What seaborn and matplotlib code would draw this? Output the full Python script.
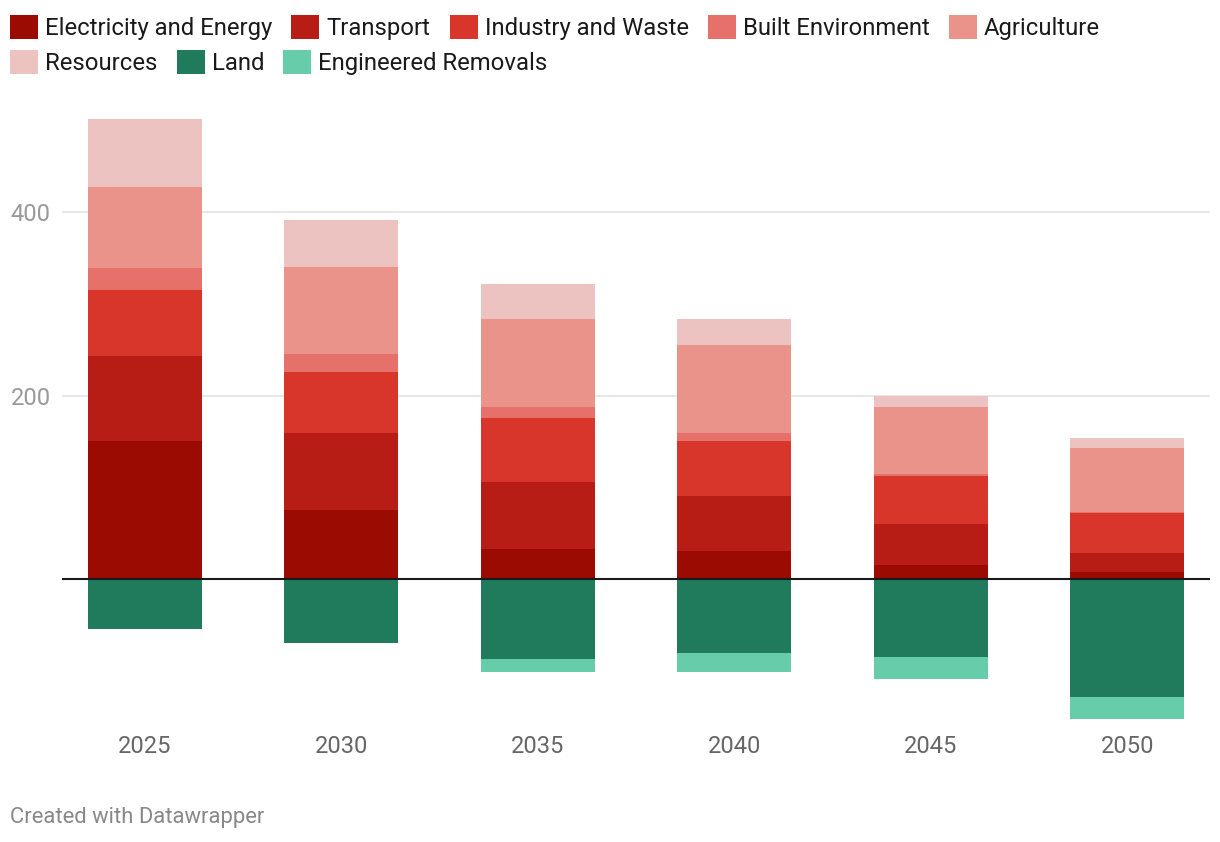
import matplotlib
matplotlib.use("Agg")
import matplotlib.pyplot as plt
from matplotlib.patches import Patch
import seaborn as sns
import pandas as pd
import numpy as np

years = ["2025", "2030", "2035", "2040", "2045", "2050"]
electricity = [150, 75, 33, 31, 15, 8]
transport = [93, 84, 73, 60, 45, 21]
industry = [72, 67, 69, 59, 52, 43]
built = [24, 19, 13, 9, 3, 1]
agriculture = [88, 95, 95, 96, 72, 70]
resources = [74, 51, 39, 28, 12, 11]
land = [-54.5, -70, -87, -80.5, -85, -128.5]
engineered = [0, 0, -14, -21, -24, -24]

pos_names = ["Electricity and Energy", "Transport", "Industry and Waste",
             "Built Environment", "Agriculture", "Resources"]
neg_names = ["Land", "Engineered Removals"]
colors = {
    "Electricity and Energy": "#9b0b01",
    "Transport": "#b71d14",
    "Industry and Waste": "#d8352b",
    "Built Environment": "#e5716a",
    "Agriculture": "#e9938a",
    "Resources": "#ecc3c1",
    "Land": "#1f7b5c",
    "Engineered Removals": "#66cca9",
}

df = pd.DataFrame({
    "year": years,
    "Electricity and Energy": electricity,
    "Transport": transport,
    "Industry and Waste": industry,
    "Built Environment": built,
    "Agriculture": agriculture,
    "Resources": resources,
    "Land": land,
    "Engineered Removals": engineered,
})

sns.set_theme(style="white")
plt.rcParams["font.family"] = ["Roboto", "DejaVu Sans"]

W, H = 1220, 842
fig = plt.figure(figsize=(W / 100, H / 100), dpi=100)
ax = fig.add_axes([62 / W, 1 - 725 / H, (1210 - 62) / W, (725 - 100) / H])

bw = 0.58
# positive stack: draw cumulative totals from top layer downward
cum = df[pos_names].cumsum(axis=1)
for name in reversed(pos_names):
    sns.barplot(x=df["year"], y=cum[name], color=colors[name], width=bw,
                saturation=1, ax=ax, order=years, linewidth=0, zorder=3)
ncum = df[neg_names].cumsum(axis=1)
for name in reversed(neg_names):
    sns.barplot(x=df["year"], y=ncum[name], color=colors[name], width=bw,
                saturation=1, ax=ax, order=years, linewidth=0, zorder=3)

ax.set_xlim(-0.42, 5.42)
ax.set_ylim(-158.9, 521.9)
ax.set_yticks([200, 400])
ax.set_yticklabels(["200", "400"])
for y in [200, 400]:
    ax.axhline(y, color="#e5e5e5", lw=1.3, zorder=1)
ax.axhline(0, color="#1a1a1a", lw=1.5, zorder=4)
for s in ax.spines.values():
    s.set_visible(False)
ax.grid(False)
ax.set_xlabel("")
ax.set_ylabel("")
ax.tick_params(axis="y", length=0, pad=8, labelsize=17, labelcolor="#999999")
ax.tick_params(axis="x", length=0, pad=7, labelsize=17, labelcolor="#666666")

fs = 17.2
h1 = [Patch(facecolor=colors[n], edgecolor="none") for n in pos_names[:5]]
h2 = [Patch(facecolor=colors[n], edgecolor="none") for n in [pos_names[5]] + neg_names]
common = dict(loc="upper left", frameon=False, fontsize=fs, borderaxespad=0,
              borderpad=0, handlelength=1.17, handleheight=1.17,
              handletextpad=0.3, columnspacing=0.8,
              labelcolor="#1a1a1a")
fig.legend(h1, pos_names[:5], ncol=5, bbox_to_anchor=(10 / W, 1 - 15 / H), **common)
fig.legend(h2, [pos_names[5]] + neg_names, ncol=3, bbox_to_anchor=(10 / W, 1 - 50 / H), **common)

fig.text(10 / W, 1 - 817 / H, "Created with Datawrapper", fontsize=15.8,
         color="#888888", va="center", ha="left")

fig.savefig("out.png", dpi=100, facecolor="white")
